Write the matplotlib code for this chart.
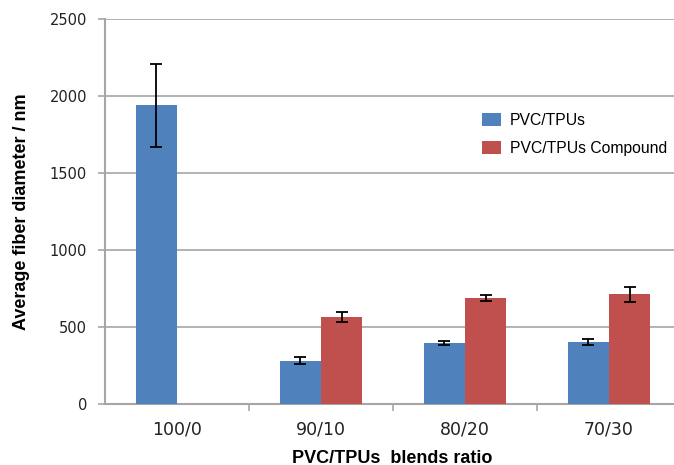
import numpy as np
import matplotlib.pyplot as plt

categories = ['100/0', '90/10', '80/20', '70/30']
pvc_tpu = [1940, 281, 395, 402]
pvc_tpu_err = [268, 22, 12, 18]
compound = [0, 565, 688, 712]
compound_err = [0, 30, 19, 50]

blue = '#4F81BD'
red = '#C0504D'
grid_c = '#A6A6A6'

fig = plt.figure(figsize=(6.74, 4.65), dpi=100)
ax = fig.add_axes([105/674, 61/465, 576/674, 385/465])

x = np.arange(len(categories))
w = 0.285
ax.bar(x - w/2, pvc_tpu, w, color=blue, label='PVC/TPUs', zorder=3)
ax.bar(x + w/2, compound, w, color=red, label='PVC/TPUs Compound', zorder=3)
# error bars (skip the empty compound bar)
ax.errorbar(x - w/2, pvc_tpu, yerr=pvc_tpu_err, fmt='none', ecolor='black',
            elinewidth=1.3, capsize=4, capthick=1.3, zorder=4)
ax.errorbar(x[1:] + w/2, compound[1:], yerr=compound_err[1:], fmt='none', ecolor='black',
            elinewidth=1.3, capsize=4, capthick=1.3, zorder=4)

ax.set_xlim(-0.5, 3.5)
ax.set_ylim(0, 2500)
ax.set_yticks(np.arange(0, 2501, 500))
ax.yaxis.grid(True, color=grid_c, linewidth=1.2, zorder=0)

ax.set_xticks(x)
ax.set_xticklabels(categories, fontsize=12.5, color='#222222')
ax.set_xticks(np.arange(0.5, 3.5, 1), minor=True)
ax.tick_params(axis='x', which='major', length=0, pad=12)
ax.tick_params(axis='x', which='minor', length=5, color=grid_c, width=1.2)
ax.tick_params(axis='y', length=5, color=grid_c, width=1.2, labelsize=10.5,
               labelcolor='#222222', pad=8)

for s in ['top', 'right']:
    ax.spines[s].set_visible(False)
for s in ['left', 'bottom']:
    ax.spines[s].set_color(grid_c)
    ax.spines[s].set_linewidth(1.5)

ax.set_ylabel('Average fiber diameter / nm', fontsize=13, fontweight='bold',
              family=['Liberation Sans Narrow', 'Liberation Sans'], labelpad=14)
fig.text(392/674, 1 - 458/465, 'PVC/TPUs  blends ratio', ha='center', va='center',
         fontsize=13, fontweight='bold', family=['Liberation Sans'])

fig.legend(loc='upper left', bbox_to_anchor=(468/674, 1 - 99/465), frameon=False,
           handlelength=1.2, handleheight=0.9, labelspacing=0.8,
           handletextpad=0.55, prop={'family': 'Liberation Sans', 'size': 11.3})

fig.savefig('out.png', dpi=100)
